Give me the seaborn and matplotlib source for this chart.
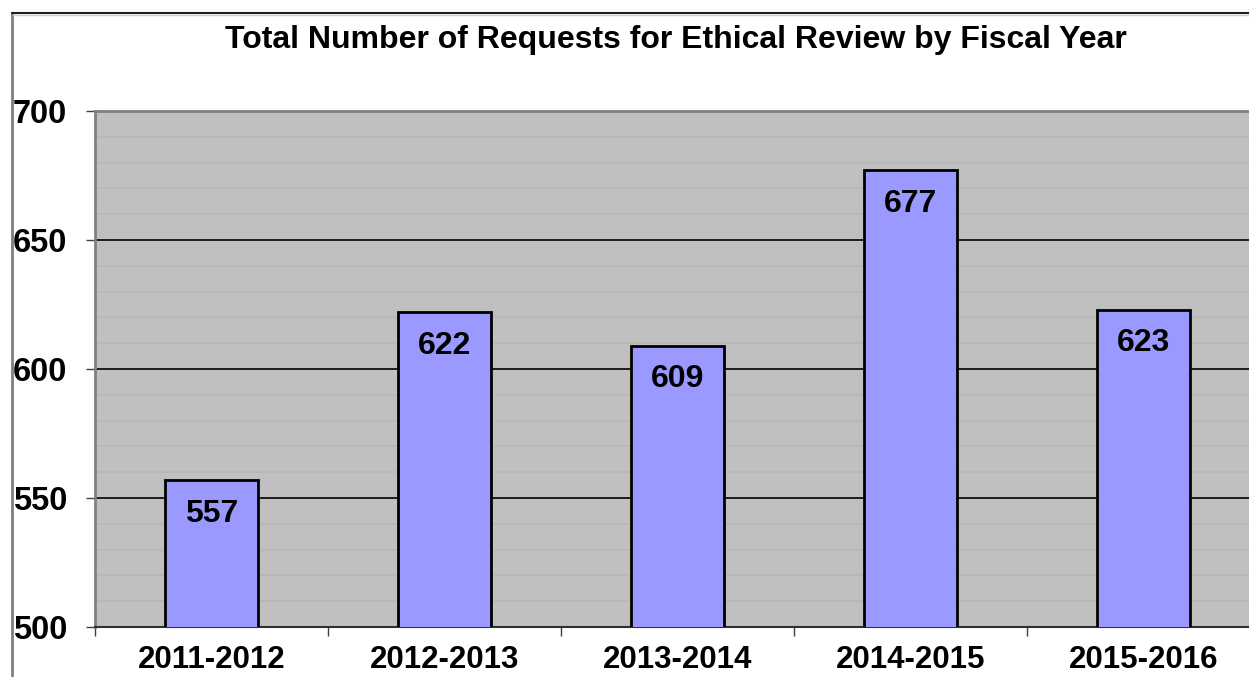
import matplotlib
matplotlib.use("Agg")
import matplotlib.pyplot as plt
import seaborn as sns
import pandas as pd
from matplotlib.ticker import MultipleLocator
from matplotlib.lines import Line2D

years = ["2011-2012", "2012-2013", "2013-2014", "2014-2015", "2015-2016"]
requests = [557, 622, 609, 677, 623]
title = "Total Number of Requests for Ethical Review by Fiscal Year"

sns.set_style("white")
plt.rcParams['font.family'] = ['Liberation Sans', 'DejaVu Sans']
plt.rcParams['text.color'] = 'black'
plt.rcParams['xtick.color'] = 'black'
plt.rcParams['ytick.color'] = 'black'
plt.rcParams['axes.labelcolor'] = 'black'

df = pd.DataFrame({"year": years, "requests": requests})

fig = plt.figure(figsize=(12.49, 6.77), dpi=100)
W, H = 1249, 677
ax = fig.add_axes([95 / W, 1 - 627 / H, (1260 - 95) / W, (627 - 111) / H])
ax.set_facecolor("#C0C0C0")

sns.barplot(data=df, x="year", y="requests", ax=ax, color="#9999FF",
            saturation=1, width=0.4, edgecolor="black", linewidth=2, zorder=3)

ax.set_ylim(500, 700)
ax.set_xlim(-0.5, len(years) - 0.5)
ax.yaxis.set_major_locator(MultipleLocator(50))
ax.yaxis.set_minor_locator(MultipleLocator(10))
ax.grid(which="minor", axis="y", color="#B6B6B6", linewidth=1.1, zorder=1)
ax.grid(which="major", axis="y", color="black", linewidth=1.2, zorder=2)
ax.set_axisbelow(True)

# x: ticks at category boundaries, labels at centres
ax.set_xticks([i - 0.5 for i in range(len(years) + 1)])
ax.set_xticklabels([])
ax.set_xticks(range(len(years)), minor=True)
ax.set_xticklabels(years, minor=True)
ax.tick_params(axis="x", which="major", length=6.5, width=1, color="#404040",
               direction="out", bottom=True)
ax.tick_params(axis="x", which="minor", length=0, pad=13, labelsize=22.5,
               labelcolor="black")
for lab in ax.get_xticklabels(minor=True):
    lab.set_fontweight("bold")

ax.tick_params(axis="y", which="major", length=6.5, width=1, color="#404040",
               direction="out", left=True, pad=13.5, labelsize=23.5,
               labelcolor="black")
ax.tick_params(axis="y", which="minor", length=0)
for lab in ax.get_yticklabels():
    lab.set_fontweight("bold")

ax.set_xlabel("")
ax.set_ylabel("")

ax.spines["right"].set_visible(False)
ax.spines["left"].set_color("#808080")
ax.spines["left"].set_linewidth(2)
ax.spines["top"].set_color("#808080")
ax.spines["top"].set_linewidth(2)
ax.spines["bottom"].set_color("#303030")
ax.spines["bottom"].set_linewidth(1.5)

for c in ax.containers:
    ax.bar_label(c, labels=[str(v) for v in requests], padding=-35,
                 fontsize=23, fontweight="bold", color="black")

fig.text(676 / W, 1 - 40 / H, title, ha="center", va="center",
         fontsize=23, fontweight="bold", color="black")

# outer chart frame
fig.add_artist(Line2D([12 / W, 12 / W], [0, 1 - 13 / H], transform=fig.transFigure,
                      color="#808080", linewidth=2))
fig.add_artist(Line2D([12 / W, 1], [1 - 13 / H, 1 - 13 / H], transform=fig.transFigure,
                      color="#202020", linewidth=1.5))
fig.add_artist(Line2D([13 / W, 1], [1 - 15 / H, 1 - 15 / H], transform=fig.transFigure,
                      color="#D0D0D0", linewidth=1))

fig.savefig("out.png", dpi=100)
